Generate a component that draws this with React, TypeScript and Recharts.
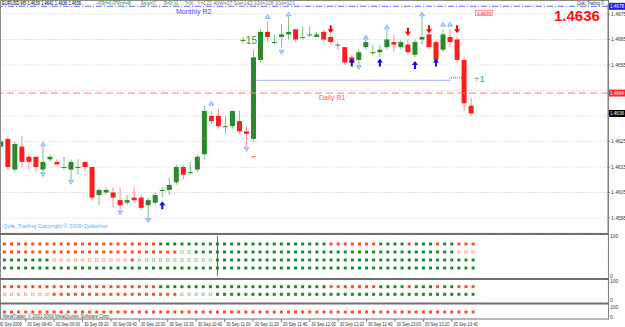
import React from 'react';
import { ComposedChart, Bar, Line, XAxis, YAxis, CartesianGrid, ReferenceLine } from 'recharts';

// ---------- categories (5-minute bars, 30 Sep 2009) ----------
const START_MIN = 8 * 60 + 20;
const N_BARS = 68;
const N_SLOTS = 87; // visible slots incl. empty right margin
const times: string[] = Array.from({ length: N_SLOTS }, (_, i) => {
  const m = START_MIN + 5 * i;
  return `${String(Math.floor(m / 60)).padStart(2, '0')}:${String(m % 60).padStart(2, '0')}`;
});

// ---------- OHLC ----------
const open = [
  1.4623, 1.4626, 1.4614, 1.4623, 1.4619, 1.4619, 1.4614, 1.4618, 1.4617, 1.4615,
  1.4614, 1.4615, 1.4617, 1.4615, 1.4604, 1.4605, 1.4605, 1.4602, 1.4601, 1.4603,
  1.4603, 1.4600, 1.4601, 1.4606, 1.4606, 1.4609, 1.4615, 1.4613, 1.4614, 1.4620,
  1.4635, 1.4635, 1.4631, 1.4631, 1.4633, 1.4629, 1.4626, 1.4657, 1.4668, 1.4664,
  1.4666, 1.4667, 1.4669, 1.4666, 1.4667, 1.4666, 1.4668, 1.4666, 1.4663, 1.4662,
  1.4658, 1.4657, 1.4662, 1.4660, 1.4660, 1.4662, 1.4664, 1.4662, 1.4663, 1.4659,
  1.4665, 1.4667, 1.4664, 1.4661, 1.4666, 1.4665, 1.4657, 1.4639,
];
const high = [
  1.4626, 1.4627, 1.4625, 1.4627, 1.4620, 1.4619, 1.4623, 1.4620, 1.4618, 1.4619,
  1.4618, 1.4618, 1.4617, 1.4615, 1.4607, 1.4607, 1.4607, 1.4607, 1.4604, 1.4607,
  1.4604, 1.4603, 1.4605, 1.4607, 1.4611, 1.4616, 1.4616, 1.4617, 1.4620, 1.4639,
  1.4637, 1.4638, 1.4635, 1.4637, 1.4637, 1.4631, 1.4661, 1.4669, 1.4672, 1.4667,
  1.4671, 1.4674, 1.4669, 1.4670, 1.4670, 1.4668, 1.4669, 1.4667, 1.4664, 1.4662,
  1.4659, 1.4661, 1.4665, 1.4663, 1.4663, 1.4669, 1.4667, 1.4665, 1.4665, 1.4665,
  1.4674, 1.4669, 1.4665, 1.4669, 1.4669, 1.4666, 1.4658, 1.4642,
];
const low = [
  1.4622, 1.4614, 1.4613, 1.4615, 1.4614, 1.4613, 1.4613, 1.4617, 1.4616, 1.4614,
  1.4610, 1.4612, 1.4613, 1.4602, 1.4600, 1.4604, 1.4599, 1.4598, 1.4600, 1.4601,
  1.4598, 1.4595, 1.4600, 1.4603, 1.4604, 1.4608, 1.4610, 1.4612, 1.4613, 1.4618,
  1.4632, 1.4630, 1.4628, 1.4630, 1.4628, 1.4623, 1.4625, 1.4656, 1.4664, 1.4663,
  1.4662, 1.4665, 1.4664, 1.4665, 1.4666, 1.4666, 1.4664, 1.4663, 1.4661, 1.4655,
  1.4655, 1.4655, 1.4661, 1.4659, 1.4658, 1.4661, 1.4660, 1.4661, 1.4659, 1.4658,
  1.4663, 1.4661, 1.4656, 1.4660, 1.4662, 1.4656, 1.4637, 1.4635,
];
const close = [
  1.4625, 1.4615, 1.4624, 1.4617, 1.4617, 1.4615, 1.4617, 1.4619, 1.4616, 1.4615,
  1.4617, 1.4615, 1.4615, 1.4603, 1.4606, 1.4606, 1.4603, 1.4600, 1.4602, 1.4602,
  1.4599, 1.4602, 1.4604, 1.4606, 1.4608, 1.4615, 1.4612, 1.4613, 1.4619, 1.4637,
  1.4633, 1.4631, 1.4631, 1.4637, 1.4629, 1.4628, 1.4658, 1.4668, 1.4666, 1.4664,
  1.4667, 1.4668, 1.4665, 1.4666, 1.4667, 1.4667, 1.4665, 1.4664, 1.4663, 1.4656,
  1.4656, 1.4660, 1.4664, 1.4660, 1.4661, 1.4665, 1.4663, 1.4664, 1.4660, 1.4664,
  1.4666, 1.4662, 1.4657, 1.4667, 1.4664, 1.4657, 1.4640, 1.4636,
];

// ---------- markers [barIndex, price] ----------
const fractalUp: [number, number][] = [[6, 1.4624], [30, 1.4640], [38, 1.4674], [41, 1.4675], [52, 1.4666], [55, 1.4670], [60, 1.4675], [63, 1.4671], [64, 1.4671]];
const fractalDown: [number, number][] = [[6, 1.4612], [10, 1.4609], [17, 1.4597], [21, 1.4594], [35, 1.4622], [40, 1.4660], [51, 1.4654]];
const sellArrows: [number, number][] = [[47, 1.4669], [58, 1.4668], [61, 1.4669], [65, 1.4669]];
const buyArrows: [number, number][] = [[23, 1.4600], [50, 1.4656], [54, 1.4656], [59, 1.4655], [62, 1.4656]];
const stopMarks: [number, number][] = [[36, 1.4619]];
const trailStop: [number, number][] = [
  [36, 1.4649], [37, 1.4649], [38, 1.4649], [39, 1.4649], [40, 1.4649], [41, 1.4649], [42, 1.4649],
  [43, 1.4649], [44, 1.4649], [45, 1.4649], [46, 1.4649], [47, 1.4649], [48, 1.4649], [49, 1.4649],
  [50, 1.4649], [51, 1.4649], [52, 1.4649], [53, 1.4649], [54, 1.4649], [55, 1.4649], [56, 1.4649],
  [57, 1.4649], [58, 1.4649], [59, 1.4649], [60, 1.4649], [61, 1.4649], [62, 1.4649], [63, 1.4649],
  [64, 1.4650], [65, 1.4650], [66, 1.4650],
];

// ---------- levels ----------
const monthlyR2 = 1.4678;
const dailyR1 = 1.4644;
const lastPrice = 1.4636;
const priceTicks = [1.4595, 1.4605, 1.4615, 1.4625, 1.4635, 1.4645, 1.4655, 1.4665, 1.4675];
const coveredTicks = [1.4635, 1.4645]; // hidden under the price boxes
const priceDomain = [1.458912, 1.467853];

// ---------- indicator rows (run-length: status, count) ----------
// O = orange filled, G = green filled, o = orange hollow, g = green hollow
const ind1Row1: [string, number][] = [['O', 23], ['G', 24], ['O', 7], ['G', 4], ['O', 1], ['G', 3], ['O', 1], ['G', 2], ['O', 3]];
const ind1Row2: [string, number][] = [['O', 26], ['g', 2], ['G', 37], ['o', 3]];
const ind1Row3: [string, number][] = [['G', 8], ['o', 11], ['O', 1], ['g', 11], ['G', 37]];
const ind1Row4: [string, number][] = [['G', 68]];
const ind2Row1: [string, number][] = [['O', 23], ['G', 24], ['O', 7], ['G', 4], ['O', 1], ['G', 3], ['O', 1], ['G', 2], ['O', 3]];
const ind2Row2: [string, number][] = [['G', 1], ['o', 7], ['O', 18], ['g', 5], ['G', 37]];
const ind3Row1: [string, number][] = [['O', 68]];

const expand = (rl: [string, number][]) => rl.flatMap(([s, n]) => Array(n).fill(s) as string[]);
const toMap = (a: [number, number][]) => new Map(a.map(([i, p]) => [i, p]));

const fuM = toMap(fractalUp), fdM = toMap(fractalDown), saM = toMap(sellArrows), baM = toMap(buyArrows), stM = toMap(stopMarks), trM = toMap(trailStop);

const mainData = times.map((t, i) => {
  const real = i < N_BARS;
  return {
    t,
    range: real ? [low[i], high[i]] : null,
    o: real ? open[i] : null, h: real ? high[i] : null, l: real ? low[i] : null, c: real ? close[i] : null,
    fu: fuM.get(i) ?? null, fd: fdM.get(i) ?? null, sa: saM.get(i) ?? null, ba: baM.get(i) ?? null,
    st: stM.get(i) ?? null, tr: trM.get(i) ?? null,
  };
});

const buildPanel = (rows: [string, number][][], levels: number[]) => {
  const ex = rows.map(expand);
  return times.map((t, i) => {
    const d: any = { t };
    ex.forEach((r, k) => {
      d['s' + k] = i < N_BARS ? r[i] : null;
      d['v' + k] = i < N_BARS ? levels[k] : null;
    });
    return d;
  });
};
const panel1 = buildPanel([ind1Row1, ind1Row2, ind1Row3, ind1Row4], [80, 60, 40, 20]);
const panel2 = buildPanel([ind2Row1, ind2Row2], [70, 30]);
const panel3 = buildPanel([ind3Row1], [50]);

const gridTicks = times.filter((_, i) => i % 4 === 0);
const labelTicks = times.filter((_, i) => i % 4 === 0 && i < N_BARS);

const FONT = '"Liberation Sans", Arial, sans-serif';
const W = 625;
const MARGIN_L = -2.7;
const AXIS_W = 17;

// ---------- shapes ----------
const Candle = (props: any) => {
  const { x, y, width, height, payload } = props;
  if (!payload || payload.o == null) return <g />;
  const { o, h, l, c } = payload;
  const top = Math.min(y, y + height);
  const hh = Math.abs(height);
  const span = h - l || 1e-9;
  const py = (p: number) => top + ((h - p) / span) * hh;
  const cx = x + width / 2;
  const up = c >= o;
  const bt = py(Math.max(o, c));
  const bb = py(Math.min(o, c));
  const body = up ? '#2a8a2a' : '#ff1c1c';
  const wick = up ? '#7cc07c' : '#ff8c8c';
  return (
    <g>
      <line x1={cx} x2={cx} y1={top} y2={top + hh} stroke={wick} strokeWidth={1} />
      <rect x={x} y={bt} width={width} height={Math.max(1, bb - bt)} fill={body} />
    </g>
  );
};

const mkDot = (kind: string) => (props: any) => {
  const { cx, cy, value, index } = props;
  if (value == null || cx == null || cy == null || isNaN(cy)) return <g key={index} />;
  if (kind === 'fu')
    return <path key={index} d={`M${cx - 2.5},${cy + 2} L${cx + 2.5},${cy + 2} L${cx},${cy - 2} Z`} fill="#b8d4ff" stroke="#6ea6f5" strokeWidth={0.7} />;
  if (kind === 'fd')
    return <path key={index} d={`M${cx - 2.5},${cy - 2} L${cx + 2.5},${cy - 2} L${cx},${cy + 2} Z`} fill="#b8d4ff" stroke="#6ea6f5" strokeWidth={0.7} />;
  if (kind === 'sa')
    return <path key={index} d={`M${cx - 1},${cy - 4} L${cx + 1},${cy - 4} L${cx + 1},${cy} L${cx + 3},${cy} L${cx},${cy + 4} L${cx - 3},${cy} L${cx - 1},${cy} Z`} fill="#ff0000" />;
  if (kind === 'ba')
    return <path key={index} d={`M${cx - 1},${cy + 4} L${cx + 1},${cy + 4} L${cx + 1},${cy} L${cx + 3},${cy} L${cx},${cy - 4} L${cx - 3},${cy} L${cx - 1},${cy} Z`} fill="#0a0adc" />;
  if (kind === 'st')
    return <line key={index} x1={cx - 2} x2={cx + 2} y1={cy} y2={cy} stroke="#ff3030" strokeWidth={1} />;
  return <g key={index} />;
};

const mkSquare = (sKey: string) => (props: any) => {
  const { cx, cy, payload, index } = props;
  const s = payload ? payload[sKey] : null;
  if (!s || cx == null || cy == null || isNaN(cy)) return <g key={index} />;
  if (s === 'O') return <rect key={index} x={cx - 1.5} y={cy - 1.5} width={3} height={3} fill="#ff4d22" />;
  if (s === 'G') return <rect key={index} x={cx - 1.5} y={cy - 1.5} width={3} height={3} fill="#1f8a24" />;
  const st = s === 'o' ? '#ff9c80' : '#8cc48c';
  return <rect key={index} x={cx - 1.2} y={cy - 1.2} width={2.4} height={2.4} fill="none" stroke={st} strokeWidth={0.8} />;
};

const PriceBox = (props: any) => {
  const { viewBox, bg, text } = props;
  if (!viewBox) return null;
  const x = viewBox.x + viewBox.width + 1;
  const y = viewBox.y;
  return (
    <g>
      <rect x={x} y={y - 3.5} width={16} height={7} fill={bg} />
      <text x={x + 1} y={y + 2} fontSize={5} fill="#ffffff" fontFamily={FONT} textLength={14} lengthAdjust="spacingAndGlyphs">{text}</text>
    </g>
  );
};

const TimeTick = (props: any) => {
  const { x, y, payload, index } = props;
  const i = times.indexOf(payload.value);
  const label = i === 0 ? '30 Sep 2009' : `30 Sep ${payload.value}`;
  return (
    <g key={index}>
      <line x1={x} x2={x} y1={y + 2} y2={y + 5} stroke="#444" strokeWidth={0.7} />
      <text x={x + 1.5} y={y + 8.6} fontSize={5} fill="#333" fontFamily={FONT} textLength={i === 0 ? 23 : 24.5} lengthAdjust="spacingAndGlyphs">{label}</text>
    </g>
  );
};

const panelYAxis = (
  <YAxis orientation="right" width={AXIS_W} domain={[0, 100]} ticks={[0, 100]} interval={0}
    axisLine={false} tickLine={false} tickSize={0} tickMargin={2}
    tick={{ fontSize: 5, fill: '#333', fontFamily: FONT }} />
);

// invisible category axis that still provides ticks for the vertical grid
const gridXAxis = (
  <XAxis dataKey="t" ticks={gridTicks} interval={0} height={0} tick={false} axisLine={false} tickLine={false} />
);

const squareLines = (n: number) =>
  Array.from({ length: n }, (_, k) => (
    <Line key={k} dataKey={'v' + k} stroke="none" isAnimationActive={false} activeDot={false}
      dot={mkSquare('s' + k)} legendType="none" />
  ));

const T = (p: { x: number; y: number; w: number; fill: string; children: string; fs?: number }) => (
  <text x={p.x} y={p.y} fontSize={p.fs ?? 5} fill={p.fill} textLength={p.w} lengthAdjust="spacingAndGlyphs">{p.children}</text>
);

export default function App() {
  return (
    <div style={{ position: 'absolute', left: 0, top: 0, width: W, height: 327, background: '#fff', overflow: 'hidden', fontFamily: FONT }}>
      <div style={{ position: 'absolute', left: 0, top: 0 }}>
        <ComposedChart width={W} height={234} data={mainData} margin={{ top: 5, right: 0, bottom: 1, left: MARGIN_L }}>
          <CartesianGrid stroke="#c4c4c4" strokeDasharray="1 2" />
          {gridXAxis}
          <YAxis orientation="right" width={AXIS_W} domain={priceDomain} allowDataOverflow ticks={priceTicks} interval={0}
            tickFormatter={(v: number) => (coveredTicks.some((c) => Math.abs(c - v) < 1e-7) ? '' : v.toFixed(4))}
            axisLine={{ stroke: '#808080' }} tickLine={{ stroke: '#808080' }}
            tickSize={2} tickMargin={1} tick={{ fontSize: 5, fill: '#333', fontFamily: FONT }} />
          <ReferenceLine y={monthlyR2} stroke="#6e6eff" strokeDasharray="6 2 1 2" label={<PriceBox bg="#1a1aff" text="1.4678" />} />
          <ReferenceLine y={dailyR1} stroke="#ff7a7a" strokeDasharray="7 4" label={<PriceBox bg="#ff2a2a" text="1.4644" />} />
          <ReferenceLine y={lastPrice} stroke="none" label={<PriceBox bg="#000000" text="1.4636" />} />
          <Line dataKey="tr" type="stepAfter" stroke="#5a5aff" strokeDasharray="1 1" strokeWidth={1} dot={false} activeDot={false} isAnimationActive={false} />
          <Bar dataKey="range" barSize={5} shape={(p: any) => <Candle {...p} />} isAnimationActive={false} />
          <Line dataKey="fu" stroke="none" dot={mkDot('fu')} activeDot={false} isAnimationActive={false} />
          <Line dataKey="fd" stroke="none" dot={mkDot('fd')} activeDot={false} isAnimationActive={false} />
          <Line dataKey="sa" stroke="none" dot={mkDot('sa')} activeDot={false} isAnimationActive={false} />
          <Line dataKey="ba" stroke="none" dot={mkDot('ba')} activeDot={false} isAnimationActive={false} />
          <Line dataKey="st" stroke="none" dot={mkDot('st')} activeDot={false} isAnimationActive={false} />
        </ComposedChart>
      </div>
      <div style={{ position: 'absolute', left: 0, top: 234 }}>
        <ComposedChart width={W} height={45} data={panel1} margin={{ top: 2, right: 0, bottom: 3, left: MARGIN_L }}>
          <CartesianGrid stroke="#cdcdcd" strokeDasharray="1 2" horizontal={false} />
          {gridXAxis}
          {panelYAxis}
          <ReferenceLine x="10:55" stroke="#b05050" strokeWidth={1} />
          {squareLines(4)}
        </ComposedChart>
      </div>
      <div style={{ position: 'absolute', left: 0, top: 279 }}>
        <ComposedChart width={W} height={25} data={panel2} margin={{ top: 2, right: 0, bottom: 4, left: MARGIN_L }}>
          <CartesianGrid stroke="#cdcdcd" strokeDasharray="1 2" horizontal={false} />
          {gridXAxis}
          {panelYAxis}
          {squareLines(2)}
        </ComposedChart>
      </div>
      <div style={{ position: 'absolute', left: 0, top: 304 }}>
        <ComposedChart width={W} height={23} data={panel3} margin={{ top: 3, right: 0, bottom: 0, left: MARGIN_L }}>
          <XAxis dataKey="t" ticks={labelTicks} interval={0} height={10} axisLine={false} tickLine={false} tickSize={0} tickMargin={0} tick={<TimeTick />} />
          {panelYAxis}
          {squareLines(1)}
        </ComposedChart>
      </div>
      <svg width={W} height={327} style={{ position: 'absolute', left: 0, top: 0, pointerEvents: 'none' }} fontFamily={FONT}>
        {/* frame */}
        <line x1={0} x2={608.5} y1={0.5} y2={0.5} stroke="#8a8a8a" />
        <line x1={0.5} x2={0.5} y1={0} y2={319} stroke="#8a8a8a" />
        <line x1={608.5} x2={608.5} y1={0} y2={319.5} stroke="#808080" />
        <rect x={0} y={233} width={609} height={2} fill="#707070" />
        <rect x={0} y={278} width={609} height={2} fill="#707070" />
        <rect x={0} y={302.5} width={609} height={2} fill="#707070" />
        <line x1={0} x2={608.5} y1={319} y2={319} stroke="#707070" />
        {/* header */}
        <T x={2} y={5.4} w={79} fill="#000">EURUSD,M5  1.4639 1.4642 1.4636 1.4636</T>
        <T x={97} y={5.4} w={34} fill="#2a9a2a">ATRH=6  ATRH4=48</T>
        <T x={141} y={5.4} w={15} fill="#2a9a2a">Range=07</T>
        <T x={164} y={5.4} w={14} fill="#2a9a2a">R=Dr 00</T>
        <T x={185} y={5.4} w={8} fill="#777">T=58</T>
        <T x={197} y={5.4} w={98} fill="#777">Y=122  40W=27  Sw=142  10d=128  20d=121</T>
        <T x={577} y={5.4} w={27} fill="#333">Quik_Trailing ©</T>
        {/* big price */}
        <text x={554} y={21} fontSize={15} fontWeight="bold" fill="#ff1010">1.4636</text>
        {/* level names */}
        <text x={176} y={14} fontSize={7} fill="#4848ff">Monthly R2</text>
        <text x={319} y={99.5} fontSize={7} fill="#ff5a5a">Daily R1</text>
        {/* trade annotations */}
        <text x={240} y={43.5} fontSize={10} fill="#2e9a3e">+15</text>
        <text x={474} y={82} fontSize={9.5} fill="#3aa86a">+1</text>
        <rect x={475.5} y={10.5} width={17} height={5} fill="#ffe6e6" stroke="#ff6060" strokeWidth={0.6} />
        <T x={477} y={14.6} w={14} fs={4.2} fill="#c02020">1.4675</T>
        {/* footers */}
        <T x={3} y={228} w={105} fs={5.5} fill="#4fb0ff">Quik_Trailing   Copyright © 2009   Quiksilver</T>
        <T x={3} y={318} w={107} fill="#444">MetaTrader, © 2001-2009 MetaQuotes Software Corp.</T>
      </svg>
    </div>
  );
}
